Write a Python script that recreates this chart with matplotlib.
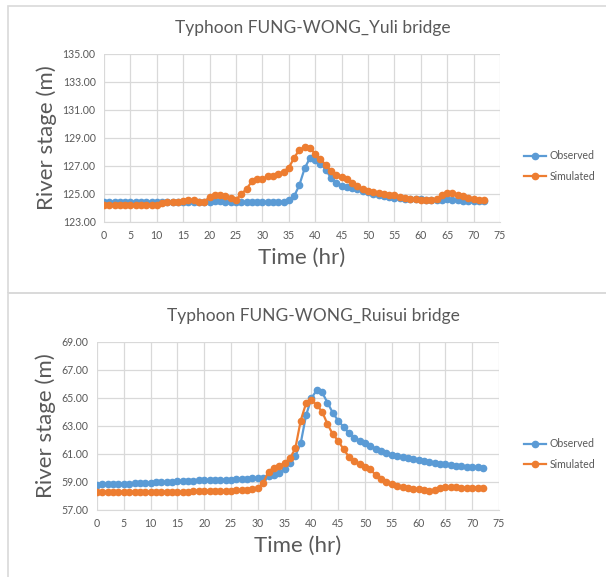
import matplotlib
matplotlib.use("Agg")
import matplotlib.pyplot as plt
from matplotlib.patches import Rectangle

plt.rcParams['font.family'] = ['Lato', 'DejaVu Sans']

hours = list(range(73))

yuli_obs = [124.40] * 11 + [124.42] * 9 + [124.45, 124.50, 124.50, 124.45, 124.45] + [124.42] * 9 + [
    124.45, 124.55, 124.83, 125.64, 126.83, 127.57, 127.45, 127.17, 126.74, 126.14,
    125.79, 125.60, 125.52, 125.45, 125.36, 125.24, 125.12, 125.00, 124.90, 124.83,
    124.79, 124.74, 124.70, 124.67, 124.64, 124.64, 124.62, 124.60, 124.60, 124.58,
    124.60, 124.62, 124.60, 124.57, 124.52, 124.50, 124.48, 124.48, 124.48]
yuli_sim = [124.21] * 10 + [124.25, 124.36, 124.43, 124.43, 124.45, 124.50, 124.57, 124.55,
    124.40, 124.45, 124.79, 124.95, 124.93, 124.83, 124.71, 124.60, 125.00, 125.36,
    125.90, 126.07, 126.07, 126.26, 126.31, 126.43, 126.60, 126.88, 127.57, 128.17,
    128.33, 128.26, 127.88, 127.50, 127.07, 126.67, 126.38, 126.21, 126.07, 125.79,
    125.55, 125.38, 125.24, 125.14, 125.07, 125.02, 124.95, 124.90, 124.81, 124.74,
    124.67, 124.64, 124.60, 124.60, 124.60, 124.62, 124.95, 125.05, 125.05, 124.95,
    124.83, 124.74, 124.64, 124.60, 124.60]

ruisui_obs = [58.79, 58.86, 58.86, 58.86, 58.87, 58.88, 58.89, 58.90, 58.90, 58.93,
    58.95, 58.97, 58.99, 59.00, 59.02, 59.04, 59.06, 59.08, 59.10, 59.11,
    59.12, 59.13, 59.14, 59.14, 59.15, 59.17, 59.20, 59.22, 59.24, 59.26,
    59.28, 59.31, 59.43, 59.52, 59.67, 59.93, 60.33, 60.86, 61.76, 63.76,
    64.98, 65.57, 65.40, 64.67, 63.93, 63.38, 62.93, 62.48, 62.17, 61.95,
    61.76, 61.57, 61.38, 61.24, 61.10, 60.95, 60.86, 60.79, 60.71, 60.64,
    60.57, 60.52, 60.45, 60.38, 60.31, 60.26, 60.19, 60.15, 60.12, 60.10,
    60.07, 60.05, 60.00]
ruisui_sim = [58.31] * 18 + [58.34, 58.33, 58.35, 58.36, 58.37, 58.36, 58.34, 58.36,
    58.40, 58.43, 58.45, 58.48, 58.55, 58.95, 59.74, 60.02, 60.14, 60.38, 60.69,
    61.40, 63.38, 64.62, 64.86, 64.50, 64.02, 63.14, 62.40, 61.95, 61.33, 60.81,
    60.50, 60.26, 60.10, 59.90, 59.50, 59.21, 59.02, 58.86, 58.74, 58.62, 58.55,
    58.52, 58.48, 58.43, 58.38, 58.43, 58.55, 58.62, 58.64, 58.64, 58.60, 58.55,
    58.60, 58.60, 58.55]

W, H = 606, 577
BLUE = '#5B9BD5'
ORANGE = '#ED7D31'
GREY = '#595959'
GRID = '#D9D9D9'

fig = plt.figure(figsize=(W / 100, H / 100), dpi=100)
fig.patch.set_facecolor('white')

# chart frames (light grey borders like the excel charts)
fig.patches.append(Rectangle((8 / W, 1 - 293 / H), 1.0, 287 / H, transform=fig.transFigure,
                             fill=False, edgecolor=GRID, lw=1.2))
fig.patches.append(Rectangle((8 / W, -0.05), 1.0, (1 - 293 / H) + 0.05, transform=fig.transFigure,
                             fill=False, edgecolor=GRID, lw=1.2))


def px_rect(l, t, r, b):
    return [l / W, 1 - b / H, (r - l) / W, (b - t) / H]


def draw_panel(rect, obs, sim, ymin, ymax, title, title_y, legend_y):
    ax = fig.add_axes(px_rect(*rect))
    ax.plot(hours, obs, color=BLUE, lw=1.6, marker='o', ms=4.5, label='Observed', zorder=3)
    ax.plot(hours, sim, color=ORANGE, lw=1.6, marker='o', ms=4.5, label='Simulated', zorder=4)
    ax.set_xlim(0, 75)
    ax.set_ylim(ymin, ymax)
    ax.set_xticks(range(0, 76, 5))
    ax.set_yticks(range(ymin, ymax + 1, 2))
    ax.set_yticklabels(['%.2f' % v for v in range(ymin, ymax + 1, 2)])
    ax.grid(True, color=GRID, lw=0.9)
    ax.set_axisbelow(True)
    for s in ax.spines.values():
        s.set_visible(False)
    ax.spines['bottom'].set_visible(True)
    ax.spines['bottom'].set_color(GRID)
    ax.tick_params(length=0, labelsize=7.6, colors=GREY, pad=6)
    ax.set_ylabel('River stage (m)', fontsize=16, color=GREY, labelpad=4)
    ax.set_xlabel('Time (hr)', fontsize=16, color=GREY, labelpad=5)
    fig.text(313 / W, 1 - title_y / H, title, fontsize=12.5, color=GREY, ha='center', va='center')
    ax.legend(loc='center left', bbox_to_anchor=(524 / W, 1 - legend_y / H),
              bbox_transform=fig.transFigure, frameon=False, fontsize=7.6,
              labelcolor=GREY, handlelength=2.1, handletextpad=0.3, labelspacing=0.9,
              borderpad=0, borderaxespad=0)
    return ax


draw_panel((104, 54, 500, 222), yuli_obs, yuli_sim, 123, 135,
           'Typhoon FUNG-WONG_Yuli bridge', 28, 166)
draw_panel((97, 342, 499, 510), ruisui_obs, ruisui_sim, 57, 69,
           'Typhoon FUNG-WONG_Ruisui bridge', 316, 454)

fig.savefig('out.png', dpi=100)
